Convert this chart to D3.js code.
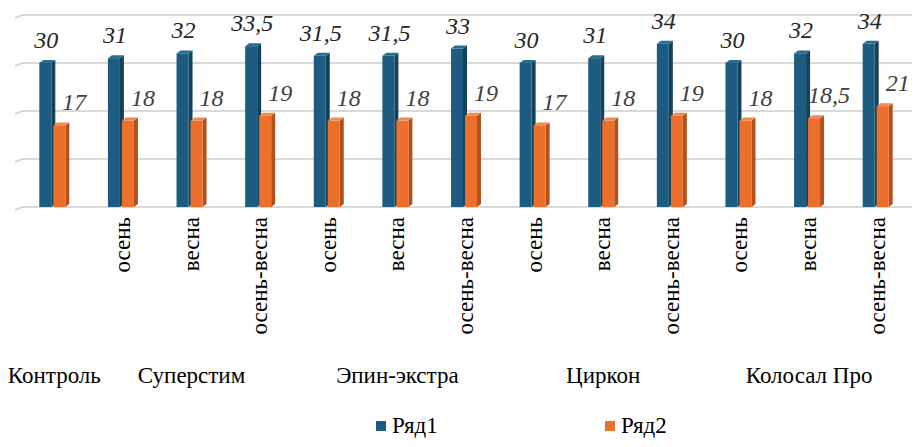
<!DOCTYPE html>
<html>
<head>
<meta charset="utf-8">
<script src="https://cdn.jsdelivr.net/npm/d3@7"></script>
<style>
  body { margin: 0; background: #fff; }
</style>
</head>
<body>
<svg width="923" height="447"></svg>
<script>
  // categories: sub-label + group they belong to
  const subLabels = ['', 'осень', 'весна', 'осень-весна', 'осень', 'весна', 'осень-весна',
    'осень', 'весна', 'осень-весна', 'осень', 'весна', 'осень-весна'];
  const groupNames = ['Контроль', 'Суперстим', 'Эпин-экстра', 'Циркон', 'Колосал Про'];
  const groupCenters = [0, 2, 5, 8, 11]; // category index under which the group name sits
  const series1 = [30, 31, 32, 33.5, 31.5, 31.5, 33, 30, 31, 34, 30, 32, 34];
  const series2 = [17, 18, 18, 19, 18, 18, 19, 17, 18, 19, 18, 18.5, 21];
  const seriesNames = ['Ряд1', 'Ряд2'];
  const yTicks = [0, 10, 20, 30, 40];

  const FONT = '"Times New Roman", "Liberation Serif", "DejaVu Serif", serif';

  const svg = d3.select('svg');
  const margin = { top: 15, left: 20, right: 11, bottom: 240 };
  const width = +svg.attr('width');
  const height = +svg.attr('height');
  const innerW = width - margin.left - margin.right;
  const innerH = height - margin.top - margin.bottom; // 192

  const colors = [
    { front: '#1d5c80', side: '#14415c', top: '#2a6d93' },
    { front: '#ec702c', side: '#b1511c', top: '#f08a4f' }
  ];

  const g = svg.append('g').attr('transform', `translate(${margin.left},${margin.top})`);

  const x = d3.scaleBand().domain(d3.range(subLabels.length)).range([0, innerW]);
  const y = d3.scaleLinear().domain([0, 40]).range([innerH, 0]);

  // gridlines (with a small perspective kink at the left)
  g.append('g').selectAll('path').data(yTicks).enter().append('path')
    .attr('d', d => `M-5,${y(d) + 3}L2,${y(d)}H${innerW}`)
    .attr('fill', 'none')
    .attr('stroke', '#d9d9d9')
    .attr('stroke-width', 2);

  const barW = 12, depth = 4, rise = 3;
  const data = series1.map((v, i) => ({ i, vals: [v, series2[i]] }));

  // 3D-ish bars
  [0, 1].forEach(s => {
    const bars = g.append('g').selectAll('g').data(data).enter().append('g')
      .attr('transform', d => {
        const cx = x(d.i) + x.bandwidth() / 2;
        return `translate(${cx - 15 + s * 14},0)`;
      });
    bars.append('path') // side
      .attr('d', d => {
        const t = y(d.vals[s]);
        return `M${barW},${t}L${barW + depth},${t - rise}L${barW + depth},${innerH - rise}L${barW},${innerH}Z`;
      })
      .attr('fill', colors[s].side);
    bars.append('path') // top
      .attr('d', d => {
        const t = y(d.vals[s]);
        return `M0,${t}L${depth},${t - rise}L${barW + depth},${t - rise}L${barW},${t}Z`;
      })
      .attr('fill', colors[s].top);
    bars.append('rect') // front
      .attr('x', 0)
      .attr('y', d => y(d.vals[s]))
      .attr('width', barW)
      .attr('height', d => innerH - y(d.vals[s]))
      .attr('fill', colors[s].front);
  });

  const fmt = v => String(v).replace('.', ',');

  // value labels
  g.append('g').selectAll('text').data(data).enter().append('text')
    .attr('x', d => x(d.i) + x.bandwidth() / 2 - 8)
    .attr('y', d => y(d.vals[0]) - 15)
    .attr('text-anchor', 'middle')
    .style('font-family', FONT)
    .style('font-style', 'italic')
    .style('font-size', '24px')
    .attr('fill', '#262626')
    .text(d => fmt(d.vals[0]));
  g.append('g').selectAll('text').data(data).enter().append('text')
    .attr('x', d => x(d.i) + x.bandwidth() / 2 + 20)
    .attr('y', d => y(d.vals[1]) - 15)
    .attr('text-anchor', 'middle')
    .style('font-family', FONT)
    .style('font-style', 'italic')
    .style('font-size', '24px')
    .attr('fill', '#404040')
    .text(d => fmt(d.vals[1]));

  // rotated sub-labels
  g.append('g').selectAll('text').data(subLabels).enter().append('text')
    .attr('transform', (d, i) => `translate(${x(i) + x.bandwidth() / 2 + 7},${innerH + 10}) rotate(-90)`)
    .attr('text-anchor', 'end')
    .style('font-family', FONT)
    .style('font-size', '23px')
    .attr('fill', '#000')
    .text(d => d);

  // group labels
  g.append('g').selectAll('text').data(groupNames).enter().append('text')
    .attr('x', (d, i) => x(groupCenters[i]) + x.bandwidth() / 2)
    .attr('y', 368)
    .attr('text-anchor', 'middle')
    .style('font-family', FONT)
    .style('font-size', '23px')
    .attr('fill', '#000')
    .text(d => d);

  // legend
  const legendX = [376, 605];
  const lg = svg.append('g').selectAll('g').data(seriesNames).enter().append('g')
    .attr('transform', (d, i) => `translate(${legendX[i]},421)`);
  lg.append('rect').attr('width', 10).attr('height', 10).attr('fill', (d, i) => colors[i].front);
  lg.append('text').attr('x', 16).attr('y', 12)
    .style('font-family', FONT).style('font-size', '23px')
    .attr('fill', '#000').text(d => d);
</script>
</body>
</html>
